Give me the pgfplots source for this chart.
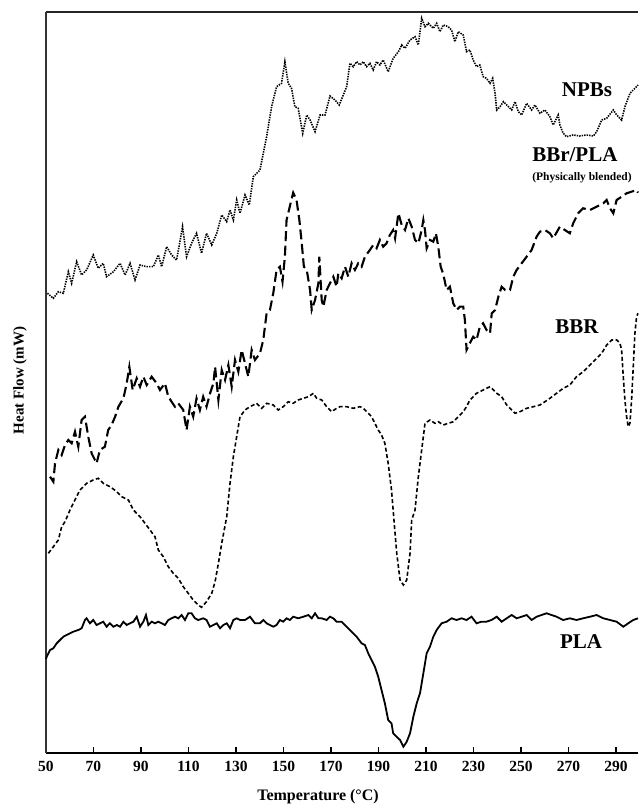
\documentclass[border=0pt]{standalone}
\usepackage{pgfplots}
\pgfplotsset{compat=1.18}
\usepackage{fontspec}
\setmainfont{Liberation Serif}
\begin{document}
\begin{tikzpicture}[x=1pt,y=1pt]
\begin{axis}[
  at={(0,0)}, anchor=south west,
  scale only axis, width=592pt, height=741pt,
  xmin=50, xmax=299.3, ymin=0, ymax=741,
  axis x line*=bottom, axis y line*=left,
  axis line style={-},
  x axis line style={line width=2.2pt},
  y axis line style={line width=2.4pt, black!80},
  ytick=\empty,
  xtick={50,70,...,290},
  tick align=inside, major tick length=6pt,
  xtick style={line width=1.6pt, black},
  /pgf/number format/assume math mode=true,
  ticklabel style={font=\fontsize{15.5}{17}\selectfont\bfseries},
  xticklabel style={yshift=-5pt},
  xlabel={Temperature (°C)},
  xlabel style={at={(rel axis cs:0.4595,-0.0594)}, anchor=center, font=\fontsize{16}{18}\selectfont\bfseries},
  ylabel={Heat Flow (mW)},
  ylabel style={at={(rel axis cs:-0.0439,0.503)}, anchor=center, font=\fontsize{15}{17}\selectfont\bfseries},
  clip=false,
]
% NPBs
\addplot[black, line width=1.6pt, dash pattern=on 1.4pt off 1.1pt] table {
50.6 459.7
53.1 454.7
55.2 461.3
57.3 459.7
59.4 481.3
60.8 469.7
62.9 491.3
65.0 478
67.1 483
69.9 498
72.0 484.7
74.1 489.7
75.5 476.3
78.4 481.3
81.2 489.7
83.3 478
85.4 489.7
87.5 473
89.6 488
92.4 486.3
95.2 486.3
97.3 498
98.7 486.3
100.8 506.3
102.9 498
105.0 493
107.5 526.3
109.2 496.3
111.3 509.7
113.4 519.7
115.5 499.7
117.6 519.7
119.8 508
121.9 519.7
124.0 538
126.1 531.3
127.5 543
128.9 533
130.3 553
131.7 539.7
133.8 558
135.6 548
137.3 576.3
140.1 583
142.9 616.3
145.0 646.3
147.1 666.3
149.2 669.7
150.6 691.3
152.0 669.7
153.4 664.7
154.8 646.3
156.2 644.7
158.1 619.7
159.8 638
161.2 633
163.3 621.3
165.4 638
167.5 638
169.6 657
171.7 653
173.5 648
175.2 658
176.6 666.3
178.0 689.7
179.4 686.3
180.8 691.3
182.2 688
183.6 691.3
185.0 686.3
186.4 689.7
187.8 683
189.2 691.3
190.6 688
192.0 693
194.1 681.3
196.2 694.7
198.4 701.3
199.8 708
201.2 704.7
203.3 713
205.4 716.3
206.8 708
208.2 734.7
209.6 726.3
211.0 729.7
213.1 724.7
214.5 729.7
215.9 721.3
217.3 728
219.4 726.3
220.8 723
222.2 711.3
223.6 721.3
225.7 718
227.1 701.3
228.5 703
229.9 693
231.3 686.3
232.7 688
234.1 676.3
235.5 674.7
237.0 669.7
238.1 674.7
239.1 659.7
239.8 643
241.2 646.3
242.6 651.3
244.0 648
246.1 643
247.5 651.3
248.9 641.3
250.3 638
252.4 649.7
254.5 643
255.9 648
258.0 639.7
260.1 643
262.2 636.3
263.6 628
265.7 638
266.4 628
267.8 619.7
269.2 616.3
272.0 618
274.8 617
277.6 618
280.5 617
281.9 621.3
284.0 633
286.1 634.7
288.9 643
290.3 638
292.4 633
293.8 646.3
295.9 659.7
298.0 664.7
299.3 668
};
% BBr/PLA
\addplot[black, line width=2.1pt, dash pattern=on 10pt off 4.5pt] table {
51.7 276.3
53.1 271.3
53.8 289.7
55.2 303
56.6 298
58.0 308
59.4 313
60.8 309.7
62.2 321.3
63.6 306.3
65.0 333
66.4 336.3
67.8 316.3
69.2 299.7
71.3 289.7
72.7 303
74.8 306.3
76.2 323
77.6 328
79.1 336.3
80.5 346.3
82.6 354.7
84.0 369.7
85.1 386.3
86.5 363
88.2 374.7
89.6 366.3
91.0 376.3
92.4 368
94.5 376.3
96.6 369.7
98.0 363
100.1 369.7
101.5 356.3
102.9 351.3
104.3 346.3
105.7 349.7
107.8 343
109.2 323
110.6 346.3
112.0 336.3
113.4 354.7
114.8 343
116.2 356.3
117.6 346.3
119.1 359.7
120.5 369.7
121.2 386.3
122.6 353
124.0 383
125.4 373
126.8 388
128.2 366.3
129.6 393
131.0 381.3
132.4 403
133.8 389.7
135.2 376.3
136.6 403
138.0 393
140.1 399.7
141.5 413
142.9 439.7
144.3 443
145.7 459.7
147.1 483
148.5 486.3
149.6 471.3
150.6 496.3
151.3 533
153.0 549.7
154.1 560.3
155.5 553
156.7 533
157.7 509.7
158.6 486.3
159.8 483
161.2 463
161.9 443
163.3 453
164.7 469.7
165.1 496.3
166.1 453
166.8 446.3
168.2 463
169.6 469.7
171.0 476.3
172.4 466.3
173.1 479.7
174.5 474.7
175.9 486.3
177.3 476.3
178.7 489.7
180.1 483
181.5 489.7
182.9 486.3
184.3 496.3
186.4 503
187.8 508
189.2 504.7
190.6 513
192.0 506.3
193.4 509.7
194.8 518
196.2 523
197.0 514.7
198.4 539.7
199.8 528
201.2 523
202.6 534.7
204.0 526.3
205.4 513
206.8 509.7
208.2 523
208.9 533
209.6 523
210.3 504.7
211.7 513
213.1 511.3
214.2 519.7
215.2 506.3
216.2 486.3
217.3 479
218.7 463
220.1 466.3
221.5 449.7
222.9 443
224.3 446.3
225.7 446.3
226.4 433
227.1 403
228.5 409.7
229.9 416.3
231.3 413
232.7 426.3
234.1 429.7
235.5 423
237.0 419.7
237.7 439.7
239.1 443
240.5 456.3
241.9 466.3
243.3 463
245.4 463
246.8 476.3
248.2 483
250.3 489.7
252.4 496.3
254.5 503
256.6 516.3
258.0 521.3
260.1 523
262.2 519.7
263.6 514.7
266.4 526.3
268.5 523
270.6 519.7
272.0 529.7
274.1 539.7
276.2 544.7
279.1 543
281.9 546.3
284.7 549.7
286.1 553
287.5 544.7
288.9 539.7
290.3 553
292.4 556.3
294.5 559.7
296.6 561.3
298.7 563
299.3 560.3
};
% BBR
\addplot[black, line width=1.6pt, dash pattern=on 4pt off 2.5pt] table {
51.0 199.7
53.1 206.3
55.2 213
56.6 226.3
58.0 231.3
60.1 243
62.2 253
64.3 263
67.1 269.7
69.9 273
72.0 274.7
74.1 269.7
77.0 266.3
79.8 261.3
81.9 256.3
84.7 253
86.8 243
89.6 236.3
91.7 229.7
93.8 223
95.9 216.3
97.3 203
99.4 196.3
101.5 186.3
103.6 179.7
105.7 174.7
107.8 166.3
109.9 159.7
112.0 153
114.1 148
115.5 145.7
117.6 151.3
119.8 159.7
121.2 171.3
122.6 189.7
124.0 209.7
126.1 236.3
127.5 269.7
128.9 296.3
130.3 316.3
131.7 336.3
133.8 343
135.9 346.3
138.7 349.7
140.8 344.7
142.9 349.7
145.7 348
147.8 343
149.9 346.3
152.0 351.3
154.1 349.7
156.2 353
158.4 354.7
160.5 356.3
162.6 359.7
164.0 354.7
166.1 353
168.2 346.3
170.3 341.3
172.4 344.7
173.8 346.3
176.6 346.3
179.4 344.7
182.2 346.3
183.6 344.7
185.7 339.7
187.1 336.3
188.5 329.7
189.9 323
191.3 318
192.7 309.7
194.1 289.7
195.5 263
196.6 231
197.7 199.7
199.1 173
200.5 168
201.9 173
203.3 199.7
204.0 233
205.4 243
206.8 276.3
208.2 303
209.6 329.7
211.7 333
213.8 329.7
215.2 331.3
217.3 328
219.4 329.7
221.5 331.3
223.6 336.3
225.7 341.3
227.1 346.3
228.5 353
229.9 356.3
231.3 359.7
232.7 361.3
234.1 363
235.5 364.7
237.0 366.3
238.4 363
239.8 359.7
241.9 356.3
244.0 348
246.1 343
247.5 339.7
249.6 341.3
252.4 344.7
255.2 346.3
258.0 348
260.1 351.3
262.2 354.7
265.0 359.7
267.8 364.7
270.6 368
273.4 376.3
276.2 381.3
279.1 388
281.9 394.7
284.0 399.7
286.1 408
288.2 413
290.3 413
291.7 409.7
292.4 403
293.1 376.3
293.8 353
294.5 336.3
295.2 326.3
295.9 329.7
296.6 353
297.3 386.3
298.0 419.7
298.7 436.3
299.3 439.7
};
% PLA
\addplot[black, line width=1.8pt] table {
50.0 94
50.3 96.3
51.7 103
53.1 104.7
54.5 109.7
55.9 113
57.3 116.3
58.7 118
60.1 119.7
61.5 121.3
63.6 123
65.0 124.7
66.4 133
67.1 134.7
68.5 129.7
69.9 133
71.3 128
72.7 129.7
74.1 131.3
75.5 126.3
76.9 129.7
78.4 126.3
79.8 128
81.2 126.3
82.6 131.3
84.0 128
85.4 129.7
86.8 131.3
88.2 136.3
89.6 126.3
91.0 131.3
92.1 138
93.1 128
94.5 131.3
95.9 129.7
97.3 131.3
98.7 129.7
100.1 128
101.5 133
102.9 134.7
104.3 136.3
105.7 134.7
107.1 138
108.5 133
109.9 139.7
111.3 139.7
112.7 134.7
114.1 133
116.2 134.7
117.6 133
119.05 126.3
120.5 128
121.9 129.7
123.3 124.7
124.7 128
126.1 129.7
127.5 124.7
128.9 133
130.3 134.7
131.7 133
133.8 133
135.9 136.3
138.0 129.7
140.1 129.7
141.5 133
142.9 129.7
144.3 128
145.7 126.3
147.1 128
148.5 133
149.9 131.3
151.3 134.7
152.7 133
154.1 136.3
156.2 134.7
158.4 136.3
160.5 138
161.9 134.7
163.3 139.7
164.7 134.7
166.1 134.7
168.2 133
169.6 136.3
171.0 134.7
172.4 131.3
174.5 131.3
176.6 126.3
178.7 121.3
180.8 116.3
182.9 109.7
184.3 108
185.7 99.7
187.1 93
188.5 86.3
189.9 76.3
191.3 63
192.7 49.7
194.1 33
195.5 29.7
196.2 19.7
197.6 16.3
199.1 13
200.5 6.3
201.9 11.3
203.3 19.7
204.7 36.3
206.1 49.7
207.5 59.7
208.9 79.7
210.3 99.7
211.7 106.3
213.1 116.3
214.5 123
216.6 129.7
218.7 131.3
220.8 134.7
222.9 133
225.0 134.7
227.1 133
229.2 136.3
231.3 129.7
233.4 131.3
235.5 131.3
237.6 133
239.8 136.3
241.9 131.3
244.0 134.7
246.1 138
248.2 134.7
250.3 136.3
252.4 138
254.5 133
256.6 136.3
258.7 138
260.8 139.7
262.9 138
265.0 136.3
267.8 133
270.6 134.7
273.4 133
276.2 134.7
279.1 136.3
281.9 138
284.7 134.7
287.5 133
290.3 131.3
293.1 126.3
295.2 129.7
297.3 133
299.3 134.7
};
\draw[line width=1.6pt, black!85] (rel axis cs:0,1) -- (rel axis cs:1,1);
\node[font=\fontsize{21}{23}\selectfont\bfseries] at (axis cs:277.8,663) {NPBs};
\node[font=\fontsize{21}{23}\selectfont\bfseries] at (axis cs:272.7,598) {BBr/PLA};
\node[font=\fontsize{11.5}{13}\selectfont\bfseries] at (axis cs:275.7,575) {(Physically blended)};
\node[font=\fontsize{21}{23}\selectfont\bfseries] at (axis cs:273.6,426) {BBR};
\node[font=\fontsize{21}{23}\selectfont\bfseries] at (axis cs:275.3,111) {PLA};
\end{axis}
\pgfresetboundingbox
\path (-46pt,-56pt) rectangle (592pt,753pt);
\end{tikzpicture}
\end{document}
